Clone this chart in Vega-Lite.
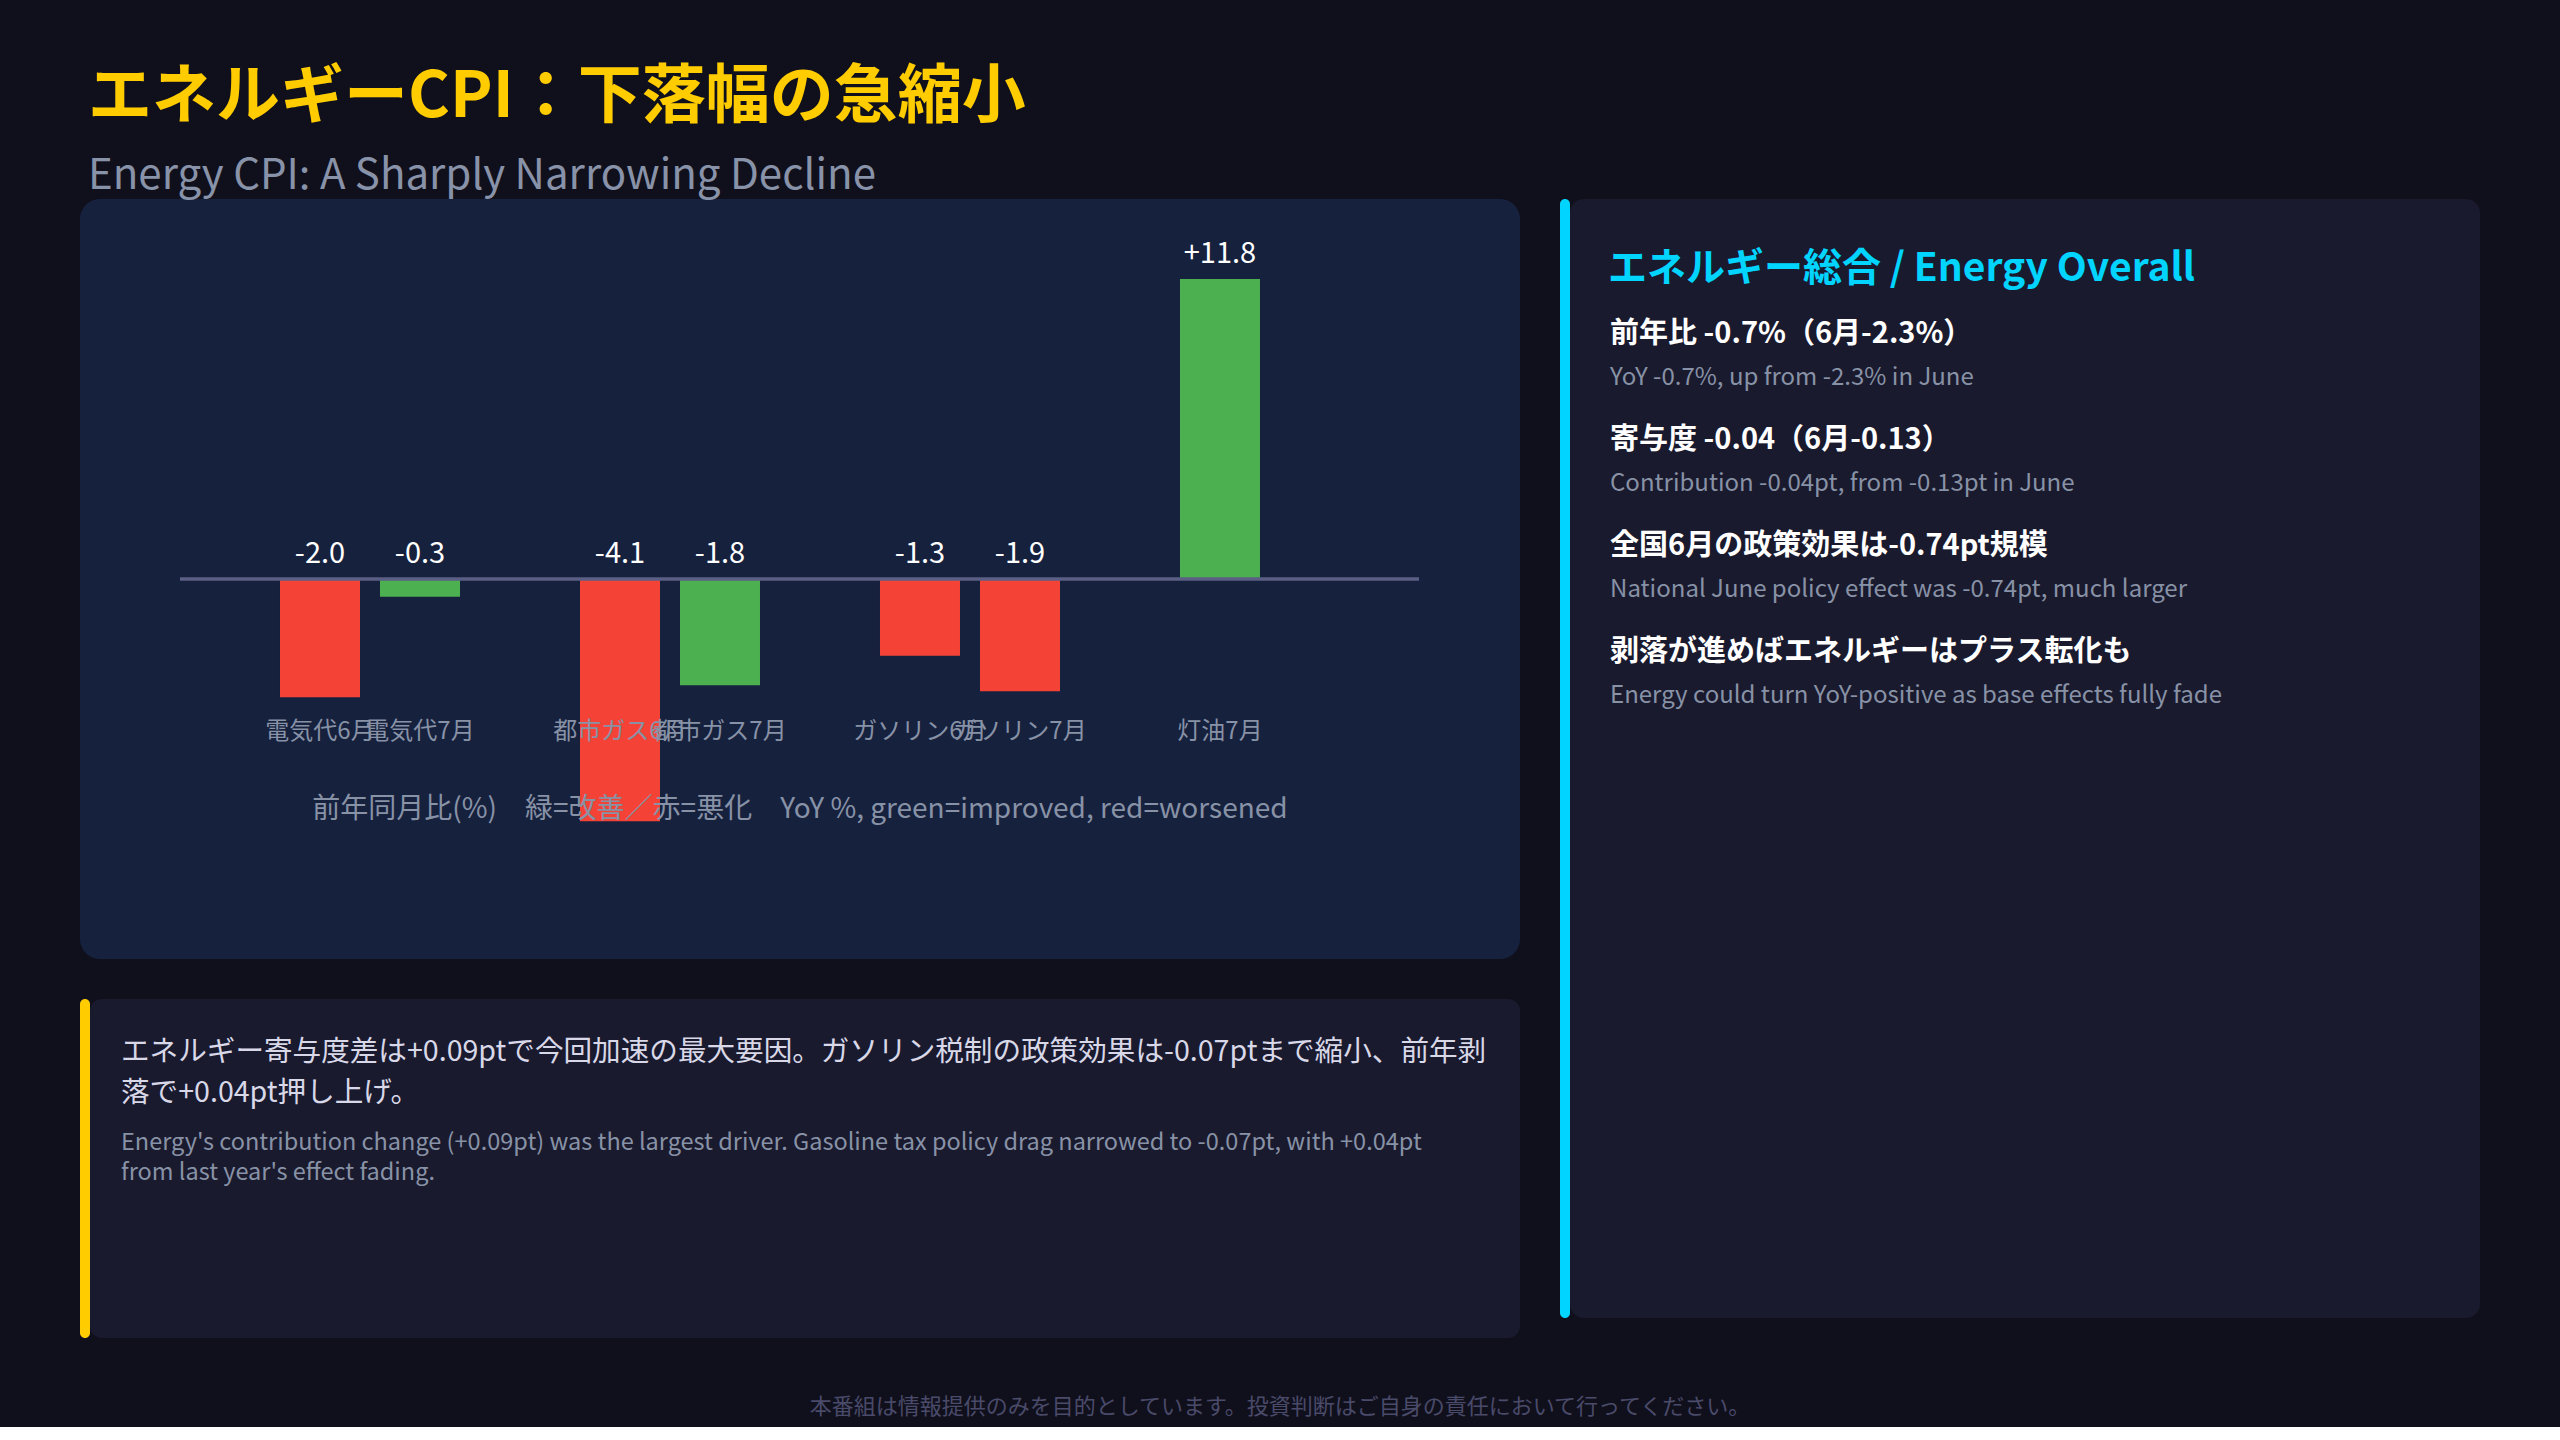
{
  "$schema": "https://vega.github.io/schema/vega-lite/v6.json",
  "background": "#10101c",
  "padding": {"left": 80, "top": 66, "right": 80, "bottom": 0},
  "title": {
    "text": "エネルギーCPI：下落幅の急縮小",
    "subtitle": "Energy CPI: A Sharply Narrowing Decline",
    "anchor": "start",
    "frame": "group",
    "dx": 8,
    "offset": 2,
    "fontSize": 64,
    "fontWeight": "bold",
    "color": "#ffcc00",
    "subtitleFontSize": 42,
    "subtitleFontWeight": "normal",
    "subtitleColor": "#8892a8",
    "subtitlePadding": 26
  },
  "spacing": 49,
  "vconcat": [
    {
      "spacing": 40,
      "hconcat": [
        {
          "spacing": 40,
          "vconcat": [
            {
              "width": 1440,
              "height": 760,
              "view": {"fill": "#16213e", "cornerRadius": 20, "stroke": null},
              "data": {
                "values": [
                  {"group": "電気代", "item": "電気代6月", "yoy": -2.0, "status": "悪化"},
                  {"group": "電気代", "item": "電気代7月", "yoy": -0.3, "status": "改善"},
                  {"group": "都市ガス", "item": "都市ガス6月", "yoy": -4.1, "status": "悪化"},
                  {"group": "都市ガス", "item": "都市ガス7月", "yoy": -1.8, "status": "改善"},
                  {"group": "ガソリン", "item": "ガソリン6月", "yoy": -1.3, "status": "悪化"},
                  {"group": "ガソリン", "item": "ガソリン7月", "yoy": -1.9, "status": "悪化"},
                  {"group": "灯油", "item": "灯油7月", "yoy": 11.8, "status": "改善"}
                ]
              },
              "transform": [
                {"window": [{"op": "row_number", "as": "slot"}], "groupby": ["group"]}
              ],
              "encoding": {
                "x": {
                  "field": "group",
                  "type": "nominal",
                  "sort": null,
                  "axis": null,
                  "scale": {"paddingInner": 0.3333, "paddingOuter": 0.5667, "align": 0.5588}
                },
                "xOffset": {
                  "field": "slot",
                  "type": "ordinal",
                  "scale": {"paddingInner": 0.2, "paddingOuter": 0.1}
                }
              },
              "layer": [
                {
                  "mark": {"type": "bar"},
                  "encoding": {
                    "y": {
                      "field": "yoy",
                      "type": "quantitative",
                      "axis": null,
                      "scale": {"domain": [-6.434, 5.08], "range": [760, 80], "clamp": true, "zero": false, "nice": false}
                    },
                    "color": {
                      "field": "status",
                      "type": "nominal",
                      "legend": null,
                      "scale": {"domain": ["改善", "悪化"], "range": ["#4caf50", "#f44336"]}
                    }
                  }
                },
                {
                  "data": {"values": [{"line": "zero"}]},
                  "mark": {"type": "rule", "color": "#5c5f85", "strokeWidth": 3.5},
                  "encoding": {
                    "x": {"datum": "電気代", "bandPosition": -0.45},
                    "x2": {"datum": "灯油", "bandPosition": 1.245},
                    "y": {"datum": 0},
                    "xOffset": null
                  }
                },
                {
                  "transform": [{"filter": "datum.yoy < 0"}],
                  "mark": {"type": "text", "baseline": "alphabetic", "dy": -16.5, "fontSize": 29, "color": "#ffffff"},
                  "encoding": {
                    "y": {"datum": 0},
                    "text": {"field": "yoy", "type": "quantitative", "format": "+.1f"}
                  }
                },
                {
                  "transform": [{"filter": "datum.yoy >= 0"}],
                  "mark": {"type": "text", "baseline": "alphabetic", "dy": -16.5, "fontSize": 29, "color": "#ffffff"},
                  "encoding": {
                    "y": {"field": "yoy", "type": "quantitative"},
                    "text": {"field": "yoy", "type": "quantitative", "format": "+.1f"}
                  }
                },
                {
                  "mark": {"type": "text", "baseline": "middle", "fontSize": 24, "color": "#8892a6"},
                  "encoding": {
                    "y": {"datum": -2.587},
                    "text": {"field": "item"}
                  }
                },
                {
                  "data": {"values": [{"caption": "前年同月比(%)　緑=改善／赤=悪化　YoY %, green=improved, red=worsened"}]},
                  "mark": {"type": "text", "baseline": "middle", "fontSize": 28, "color": "#8892a6"},
                  "encoding": {
                    "x": null,
                    "xOffset": null,
                    "y": {"datum": -3.911},
                    "text": {"field": "caption"}
                  }
                }
              ]
            },
            {
              "spacing": 0,
              "hconcat": [
                {
                  "width": 10,
                  "height": 339,
                  "view": {"fill": "#ffcc00", "cornerRadius": 5, "stroke": null},
                  "data": {"values": []},
                  "mark": "rect",
                  "encoding": {}
                },
                {
                  "width": 1430,
                  "height": 339,
                  "view": {"fill": "#1a1a2e", "cornerRadius": 12, "stroke": null},
                  "title": {
                    "text": [
                      "エネルギー寄与度差は+0.09ptで今回加速の最大要因。ガソリン税制の政策効果は-0.07ptまで縮小、前年剥",
                      "落で+0.04pt押し上げ。"
                    ],
                    "subtitle": [
                      "Energy's contribution change (+0.09pt) was the largest driver. Gasoline tax policy drag narrowed to -0.07pt, with +0.04pt",
                      "from last year's effect fading."
                    ],
                    "anchor": "start",
                    "frame": "group",
                    "dx": 31,
                    "offset": -185,
                    "fontSize": 28.6,
                    "lineHeight": 41,
                    "fontWeight": "normal",
                    "color": "#d8d8e8",
                    "subtitleFontSize": 23.5,
                    "subtitleLineHeight": 30,
                    "subtitleColor": "#8892a6",
                    "subtitlePadding": 23
                  },
                  "data": {"values": []},
                  "mark": "rect",
                  "encoding": {}
                }
              ]
            }
          ]
        },
        {
          "spacing": 0,
          "hconcat": [
            {
              "width": 10,
              "height": 1119,
              "view": {"fill": "#00d4ff", "cornerRadius": 5, "stroke": null},
              "data": {"values": []},
              "mark": "rect",
              "encoding": {}
            },
            {
              "width": 910,
              "height": 1119,
              "view": {"fill": "#1a1a2e", "cornerRadius": 14, "stroke": null},
              "title": {
                "text": "エネルギー総合 / Energy Overall",
                "anchor": "start",
                "frame": "group",
                "dx": 38,
                "offset": -90,
                "fontSize": 39,
                "fontWeight": "bold",
                "color": "#00d4ff"
              },
              "data": {
                "values": [
                  {"item": 1, "jp": "前年比 -0.7%（6月-2.3%）", "en": "YoY -0.7%, up from -2.3% in June"},
                  {"item": 2, "jp": "寄与度 -0.04（6月-0.13）", "en": "Contribution -0.04pt, from -0.13pt in June"},
                  {"item": 3, "jp": "全国6月の政策効果は-0.74pt規模", "en": "National June policy effect was -0.74pt, much larger"},
                  {"item": 4, "jp": "剥落が進めばエネルギーはプラス転化も", "en": "Energy could turn YoY-positive as base effects fully fade"}
                ]
              },
              "encoding": {
                "x": {"datum": 0, "type": "quantitative", "axis": null, "scale": {"domain": [-0.044, 0.956], "nice": false, "zero": false}},
                "y": {"field": "item", "type": "quantitative", "axis": null, "scale": {"domain": [-0.4717, 10.085], "reverse": true, "nice": false, "zero": false}}
              },
              "layer": [
                {
                  "mark": {"type": "text", "align": "left", "baseline": "middle", "dy": -21, "fontSize": 29, "fontWeight": "bold", "color": "#ffffff"},
                  "encoding": {"text": {"field": "jp"}}
                },
                {
                  "mark": {"type": "text", "align": "left", "baseline": "middle", "dy": 23, "fontSize": 24, "color": "#8892a6"},
                  "encoding": {"text": {"field": "en"}}
                }
              ]
            }
          ]
        }
      ]
    },
    {
      "width": 2400,
      "height": 40,
      "data": {"values": [{"note": "本番組は情報提供のみを目的としています。投資判断はご自身の責任において行ってください。"}]},
      "mark": {"type": "text", "baseline": "middle", "fontSize": 22, "color": "#4a4a6a"},
      "encoding": {"text": {"field": "note"}}
    }
  ],
  "config": {
    "view": {"stroke": null},
    "font": "Noto Sans CJK JP",
    "text": {"font": "Noto Sans CJK JP"},
    "title": {"font": "Noto Sans CJK JP", "subtitleFont": "Noto Sans CJK JP"},
    "locale": {
      "number": {"decimal": ".", "thousands": ",", "grouping": [3], "currency": ["$", ""], "minus": "-"}
    }
  }
}
